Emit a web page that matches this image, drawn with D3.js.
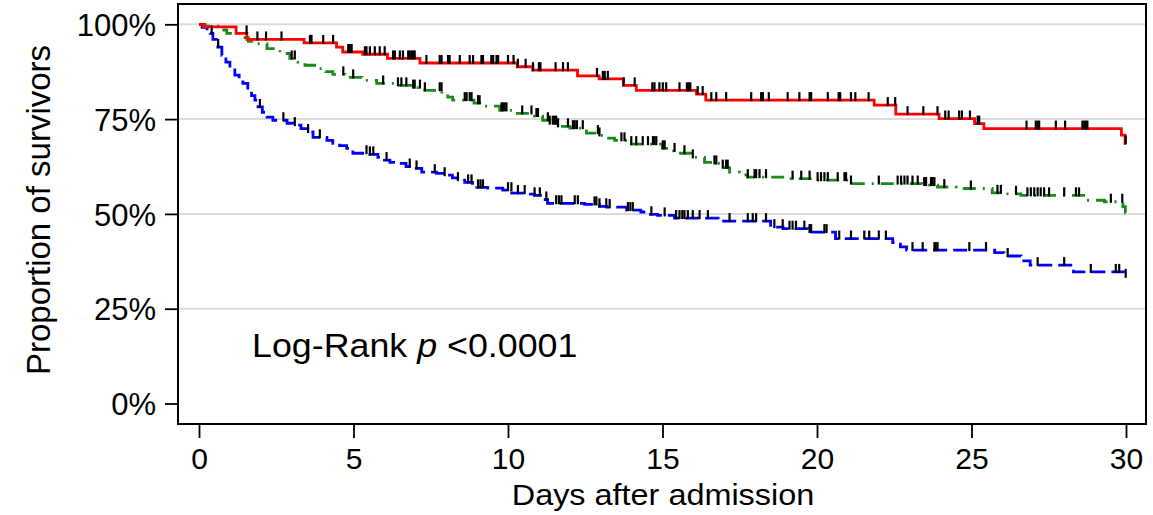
<!DOCTYPE html>
<html>
<head>
<meta charset="utf-8">
<script src="https://cdn.jsdelivr.net/npm/d3@7"></script>
<style>
  html, body { margin: 0; padding: 0; background: #fff; }
  svg { display: block; }
  text { font-family: "Liberation Sans", Arial, sans-serif; fill: #000; }
</style>
</head>
<body>
<svg id="chart" width="1153" height="515"></svg>
<script>
// ---- data ----
const xTicks = [0, 5, 10, 15, 20, 25, 30];
const yTicks = [0, 0.25, 0.5, 0.75, 1.0];
const yTickLabels = ["0%", "25%", "50%", "75%", "100%"];
const endDay = 30;

// red (solid) step function: times and survival after each step
const redTimes = [0, 0.15, 1.2, 1.55, 3.4, 4.45, 4.65, 5.3, 6.1, 7.15, 10.3, 10.8, 12.25, 12.95, 13.74, 14.15, 16.1, 16.4, 21.85, 22.55, 23.95, 25.1, 25.4, 29.85, 29.97];
const redSurv  = [1.0, 0.993, 0.976, 0.96, 0.951, 0.94, 0.927, 0.921, 0.91, 0.898, 0.888, 0.879, 0.864, 0.856, 0.839, 0.826, 0.816, 0.80, 0.787, 0.763, 0.7515, 0.738, 0.725, 0.7075, 0.686];
const redCensor = [1.54, 1.89, 2.17, 2.67, 3.59, 3.64, 4.02, 4.34, 4.83, 4.88, 4.94, 5.37, 5.42, 5.53, 5.69, 5.85, 6.01, 6.28, 6.34, 6.5, 6.6, 6.77, 6.82, 6.88, 6.93, 6.98, 7.36, 7.79, 7.85, 8.06, 8.11, 8.44, 8.76, 8.87, 9.14, 9.19, 9.46, 9.52, 9.63, 9.68, 10.0,
  10.18, 10.32, 10.57, 10.81, 11.0, 11.05, 11.54, 11.78, 11.94, 12.88, 13.07, 13.13, 13.23, 13.74, 14.1, 14.67, 14.74, 14.9, 15.01, 15.12, 15.55, 15.79, 15.85, 15.9, 16.14, 16.3, 16.58, 16.74, 17.06, 17.87, 18.19, 18.25, 18.44, 19.05, 19.43, 19.76, 19.81, 20.35,
  20.7, 20.75, 21.1, 21.24, 21.67, 22.29, 22.53, 22.93, 23.44, 23.9, 24.15, 24.26, 24.6, 24.69, 24.95, 25.2, 25.25, 26.78, 27.08, 27.14, 27.19, 27.73, 28.03, 28.59, 28.65, 28.7, 28.75, 29.99];

// green (dash-dot)
const greenTimes = [0, 0.2, 0.7, 0.9, 1.33, 1.6, 1.81, 2.2, 2.62, 2.94, 3.2, 3.43, 3.85, 4.1, 4.33, 4.72, 5.27, 5.75, 6.4, 6.89, 7.31, 7.86, 8.05, 8.21, 8.9, 9.15, 9.73, 10.15, 10.77, 11.12, 11.35, 11.6, 12.0, 12.54, 12.96, 13.2, 13.45, 13.93, 15.0, 15.2, 15.45, 15.94, 16.36, 16.68, 16.9, 17.17, 17.5, 17.75, 19.1, 20.0, 21.1, 23.4, 23.9, 24.5, 25.67, 26.1, 26.6, 28.7, 29.3, 29.9, 29.98];
const greenSurv  = [1.0, 0.995, 0.985, 0.976, 0.965, 0.955, 0.949, 0.936, 0.923, 0.91, 0.9, 0.892, 0.883, 0.875, 0.868, 0.86, 0.852, 0.844, 0.839, 0.833, 0.826, 0.817, 0.808, 0.80, 0.792, 0.784, 0.773, 0.765, 0.758, 0.747, 0.738, 0.731, 0.726, 0.713, 0.707, 0.70, 0.694, 0.684, 0.673, 0.666, 0.66, 0.649, 0.636, 0.633, 0.622, 0.61, 0.603, 0.597, 0.593, 0.589, 0.580, 0.576, 0.571, 0.567, 0.5555, 0.553, 0.549, 0.536, 0.532, 0.519, 0.503];
const greenCensor = [3.0, 3.1, 4.67, 4.99, 5.96, 6.44, 6.55, 6.71, 6.93, 6.98, 7.15, 7.31, 7.79, 7.85, 8.6, 8.66, 8.76, 8.82, 9.03, 9.08, 9.79, 9.84, 9.89, 9.95,
  10.46, 10.76, 10.92, 10.97, 11.29, 11.35, 11.45, 11.51, 11.56, 11.62, 11.94, 12.1, 12.16, 12.23, 12.42, 12.91, 12.96, 13.67, 13.77, 13.99, 14.15, 14.36, 14.53, 14.69, 14.74, 14.8, 15.01, 15.07, 15.39, 15.71, 15.98, 16.68,
  16.74, 16.95, 17.06, 17.11, 17.76, 17.98, 18.03, 18.14, 18.35, 19.21, 19.49, 19.76, 20.02, 20.13, 20.24,
  20.35, 20.67, 20.89, 20.94, 21.1, 22.0, 22.61, 22.72, 22.83, 22.93, 23.09, 23.26, 23.47, 23.53, 23.69, 23.74, 23.8, 24.12, 24.98, 25.84, 25.95, 26.44, 26.81, 26.92, 27.03, 27.14, 27.24, 27.35, 27.51, 28.0, 28.38, 28.48, 29.51, 29.88];

// blue (dashed)
const blueTimes = [0, 0.1, 0.26, 0.36, 0.45, 0.61, 0.74, 0.87, 1.0, 1.16, 1.3, 1.42, 1.58, 1.7, 1.81, 1.91, 2.05, 2.2, 2.39, 2.85, 3.04, 3.3, 3.52, 3.69, 4.14, 4.33, 4.55, 4.78, 4.98, 5.53, 5.79, 6.0, 6.18, 6.43, 6.7, 6.89, 7.21, 7.69, 7.95, 8.2, 8.37, 8.6, 8.85, 8.99, 9.34, 9.83, 10.12, 10.64, 10.86, 11.05, 11.28, 12.48, 12.96, 13.19, 13.84, 14.3, 14.52, 14.84, 15.39, 16.8, 18.5, 18.9, 19.7, 20.6, 22.45, 22.7, 22.9, 25.75, 26.05, 26.6, 26.9, 28.3, 29.95];
const blueSurv  = [1.0, 0.992, 0.984, 0.976, 0.96, 0.94, 0.918, 0.9, 0.884, 0.866, 0.855, 0.844, 0.826, 0.812, 0.8, 0.782, 0.768, 0.755, 0.747, 0.739, 0.734, 0.725, 0.716, 0.702, 0.694, 0.686, 0.68, 0.673, 0.66, 0.657, 0.649, 0.642, 0.636, 0.633, 0.625, 0.62, 0.61, 0.607, 0.602, 0.595, 0.589, 0.583, 0.575, 0.57, 0.568, 0.5625, 0.555, 0.552, 0.549, 0.538, 0.528, 0.525, 0.52, 0.518, 0.51, 0.505, 0.499, 0.496, 0.489, 0.481, 0.465, 0.461, 0.452, 0.435, 0.424, 0.413, 0.4045, 0.398, 0.389, 0.376, 0.365, 0.347, 0.334];
const blueCensor = [0.41, 0.62, 1.97, 2.73, 3.1, 3.53, 3.91, 5.42, 5.53, 5.64, 6.07, 6.82, 7.04, 7.63, 7.95, 8.38, 8.71, 8.82, 9.03, 9.11, 9.19, 10.0,
  10.11, 10.32, 10.54, 10.86, 11.03, 11.24, 11.56, 11.65, 11.73, 12.16, 12.26, 12.8, 12.86, 12.96, 13.18, 13.29, 13.88, 13.96, 14.04, 14.64, 15.07, 15.44, 15.55, 15.64, 15.71, 15.82, 15.98, 16.2, 16.47, 17.17, 17.76, 17.92, 18.03, 18.35, 18.62, 18.89, 19.11, 19.21, 19.32, 19.59, 19.76, 19.81,
  20.24, 20.31, 20.72, 21.1, 21.53, 21.69, 22.0, 22.23, 23.09, 23.42, 23.8, 23.84, 23.9, 24.93, 25.47, 26.17, 27.14, 28.0, 28.86, 29.67, 29.78, 29.99];

const annotation = "Log-Rank ";
const annotationP = "p";
const annotationRest = " <0.0001";
const xTitle = "Days after admission";
const yTitle = "Proportion of survivors";

// ---- drawing ----
const svg = d3.select("#chart");
const frame = { left: 178, right: 1146, top: 4, bottom: 424 };
const x = d3.scaleLinear().domain([0, 30]).range([199, 1126]);
const y = d3.scaleLinear().domain([0, 1]).range([403.5, 24.3]);

// gridlines
svg.append("g").selectAll("line")
  .data(yTicks.filter(d => d > 0))
  .join("line")
  .attr("x1", frame.left).attr("x2", frame.right)
  .attr("y1", d => y(d)).attr("y2", d => y(d))
  .attr("stroke", "#dcdcdc").attr("stroke-width", 2);

// axes
const yAxis = d3.axisLeft(y).tickValues(yTicks)
  .tickFormat((d, i) => yTickLabels[i]).tickSize(13).tickPadding(9);
const gy = svg.append("g").attr("transform", `translate(${frame.left},0)`).call(yAxis);
gy.select(".domain").remove();
gy.selectAll(".tick line").attr("stroke", "#000").attr("stroke-width", 1.8);
gy.selectAll(".tick text").attr("font-size", 31).attr("fill", "#000")
  .attr("font-family", "Liberation Sans, Arial, sans-serif").attr("dy", "0.36em");

const xAxis = d3.axisBottom(x).tickValues(xTicks).tickFormat(d3.format("d")).tickSize(14).tickPadding(10);
const gx = svg.append("g").attr("transform", `translate(0,${frame.bottom})`).call(xAxis);
gx.select(".domain").remove();
gx.selectAll(".tick line").attr("stroke", "#000").attr("stroke-width", 1.8);
gx.selectAll(".tick text").attr("font-size", 30).attr("fill", "#000")
  .attr("font-family", "Liberation Sans, Arial, sans-serif").attr("dy", "0.71em");

// frame
svg.append("rect")
  .attr("x", frame.left).attr("y", frame.top)
  .attr("width", frame.right - frame.left).attr("height", frame.bottom - frame.top)
  .attr("fill", "none").attr("stroke", "#000").attr("stroke-width", 2);

function stepPoints(times, surv) {
  const pts = times.map((t, i) => [t, surv[i]]);
  pts.push([endDay, surv[surv.length - 1]]);
  return pts;
}
function survAt(times, surv, t) {
  let s = surv[0];
  for (let i = 0; i < times.length; i++) { if (times[i] <= t) s = surv[i]; else break; }
  return s;
}
const line = d3.line().x(d => x(d[0])).y(d => y(d[1])).curve(d3.curveStepAfter);

const series = [
  { times: greenTimes, surv: greenSurv, censor: greenCensor, color: "#1a8a1a", dash: "13,7,2,7" },
  { times: blueTimes, surv: blueSurv, censor: blueCensor, color: "#0000ff", dash: "14,6" },
  { times: redTimes, surv: redSurv, censor: redCensor, color: "#ff0000", dash: null }
];

series.forEach(s => {
  svg.append("path")
    .datum(stepPoints(s.times, s.surv))
    .attr("d", line)
    .attr("fill", "none")
    .attr("stroke", s.color)
    .attr("stroke-width", 2.8)
    .attr("stroke-dasharray", s.dash);
});
series.forEach(s => {
  svg.append("g").selectAll("line")
    .data(s.censor)
    .join("line")
    .attr("x1", d => x(d)).attr("x2", d => x(d))
    .attr("y1", d => y(survAt(s.times, s.surv, d)) + 1)
    .attr("y2", d => y(survAt(s.times, s.surv, d)) - 8)
    .attr("stroke", "#000").attr("stroke-width", 2.2);
});

// annotation (slightly wide lettering, as in the reference)
const ann = svg.append("text").attr("transform", "translate(252,357) scale(1.085,1)").attr("font-size", 33);
ann.append("tspan").text(annotation);
ann.append("tspan").attr("font-style", "italic").text(annotationP);
ann.append("tspan").text(annotationRest);

// axis titles
svg.append("text").attr("transform", "translate(663,505) scale(1.08,1)").attr("text-anchor", "middle")
  .attr("font-size", 30).text(xTitle);
svg.append("text").attr("transform", "translate(50,210) rotate(-90)").attr("text-anchor", "middle")
  .attr("font-size", 33).text(yTitle);
</script>
</body>
</html>
